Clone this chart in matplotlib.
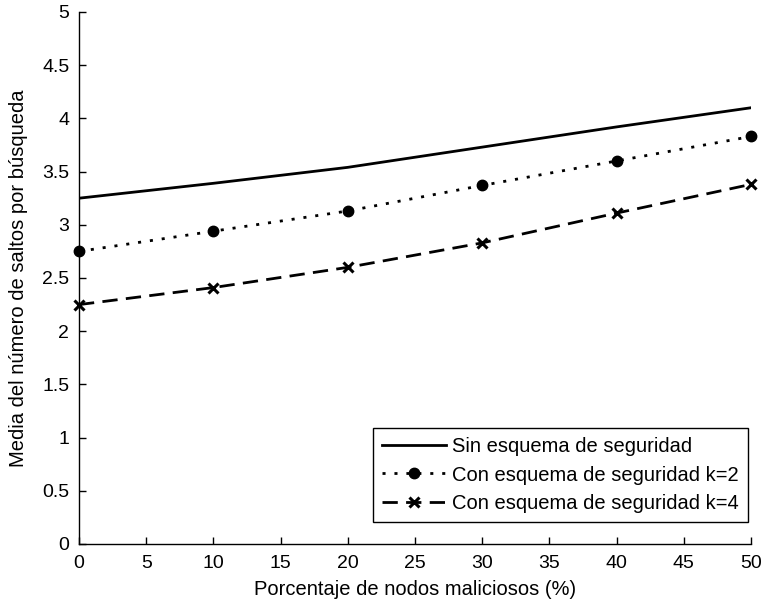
import matplotlib
matplotlib.use('Agg')
import matplotlib.pyplot as plt

plt.rcParams['font.family'] = ['Liberation Sans', 'DejaVu Sans']

# data
porcentaje = [0, 10, 20, 30, 40, 50]
sin_esquema = [3.25, 3.39, 3.54, 3.73, 3.92, 4.10]
con_k2 = [2.75, 2.94, 3.13, 3.37, 3.60, 3.83]
con_k4 = [2.25, 2.41, 2.60, 2.83, 3.11, 3.38]

etiquetas = ['Sin esquema de seguridad',
             'Con esquema de seguridad k=2',
             'Con esquema de seguridad k=4']

fig = plt.figure(figsize=(7.61, 6.03), dpi=100)
ax = fig.add_axes([79 / 761, 59 / 603, 672 / 761, 532 / 603])

ax.plot(porcentaje, sin_esquema, '-', color='k', lw=2, label=etiquetas[0])
ax.plot(porcentaje, con_k2, color='k', lw=2, marker='o', ms=7.5,
        dashes=(1.1, 3.2), label=etiquetas[1], clip_on=False)
ax.plot(porcentaje, con_k4, color='k', lw=2, marker='x', ms=7, mew=2.2,
        dashes=(5.5, 3), label=etiquetas[2], clip_on=False)

ax.set_xlim(0, 50)
ax.set_ylim(0, 5)
ax.set_xticks(range(0, 51, 5))
ax.set_yticks([i * 0.5 for i in range(11)])
ax.set_yticklabels(['0', '0.5', '1', '1.5', '2', '2.5', '3', '3.5', '4', '4.5', '5'])

ax.spines['top'].set_visible(False)
ax.spines['right'].set_visible(False)
for s in ('left', 'bottom'):
    ax.spines[s].set_linewidth(1.0)
ax.tick_params(direction='in', length=5, width=1, labelsize=14)
ax.tick_params(axis='x', pad=8)
ax.tick_params(axis='y', pad=7)

ax.set_xlabel('Porcentaje de nodos maliciosos (%)', fontsize=14.5, labelpad=6)
ax.set_ylabel('Media del número de saltos por búsqueda', fontsize=14.5, labelpad=10)

leg = ax.legend(loc='lower right', bbox_to_anchor=(0.9955, 0.042), fontsize=14.5,
                fancybox=False, framealpha=1, edgecolor='k', handlelength=3.2,
                handletextpad=0.3, numpoints=1, borderaxespad=0, borderpad=0.45,
                labelspacing=0.45)
leg.get_frame().set_linewidth(1.0)

fig.savefig('out.png', dpi=100)
